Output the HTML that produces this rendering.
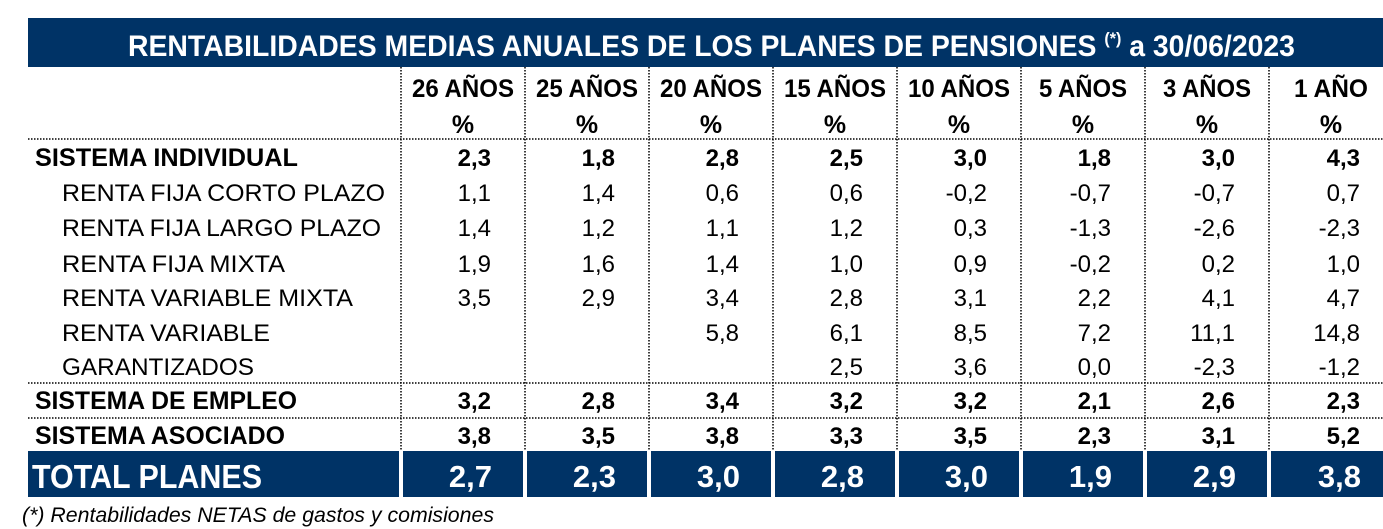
<!DOCTYPE html>
<html><head><meta charset="utf-8"><style>body{margin:0;background:#fff}svg{display:block}</style></head><body>
<svg width="1383" height="529" xmlns="http://www.w3.org/2000/svg" font-family="Liberation Sans, Arial, sans-serif">
<rect x="28" y="18" width="1360" height="49" fill="#003366"/>
<text x="128" y="56" font-size="30" font-weight="bold" fill="#fff" textLength="1167" lengthAdjust="spacingAndGlyphs">RENTABILIDADES MEDIAS ANUALES DE LOS PLANES DE PENSIONES <tspan font-size="17" dy="-12">(*)</tspan><tspan dy="12"> a 30/06/2023</tspan></text>
<g stroke="#000" stroke-width="1.5" stroke-dasharray="1.5,1.5">
<line x1="28" y1="139" x2="1383" y2="139"/>
<line x1="28" y1="383" x2="1383" y2="383"/>
<line x1="28" y1="418" x2="1383" y2="418"/>
<line x1="401" y1="67" x2="401" y2="451"/><line x1="525" y1="67" x2="525" y2="451"/>
<line x1="649" y1="67" x2="649" y2="451"/><line x1="773" y1="67" x2="773" y2="451"/>
<line x1="897" y1="67" x2="897" y2="451"/><line x1="1021" y1="67" x2="1021" y2="451"/>
<line x1="1145" y1="67" x2="1145" y2="451"/><line x1="1269" y1="67" x2="1269" y2="451"/>
</g>
<g fill="#003366">
<rect x="28" y="451" width="371" height="46"/>
<rect x="403" y="451" width="120" height="46"/><rect x="527" y="451" width="120" height="46"/>
<rect x="651" y="451" width="120" height="46"/><rect x="775" y="451" width="120" height="46"/>
<rect x="899" y="451" width="120" height="46"/><rect x="1023" y="451" width="120" height="46"/>
<rect x="1147" y="451" width="120" height="46"/><rect x="1271" y="451" width="120" height="46"/>
</g>
<g font-size="25" font-weight="bold" text-anchor="middle">
<text x="463" y="97" textLength="102" lengthAdjust="spacingAndGlyphs">26 AÑOS</text><text x="587" y="97" textLength="102" lengthAdjust="spacingAndGlyphs">25 AÑOS</text>
<text x="711" y="97" textLength="102" lengthAdjust="spacingAndGlyphs">20 AÑOS</text><text x="835" y="97" textLength="102" lengthAdjust="spacingAndGlyphs">15 AÑOS</text>
<text x="959" y="97" textLength="102" lengthAdjust="spacingAndGlyphs">10 AÑOS</text><text x="1083" y="97" textLength="88" lengthAdjust="spacingAndGlyphs">5 AÑOS</text>
<text x="1207" y="97" textLength="88" lengthAdjust="spacingAndGlyphs">3 AÑOS</text><text x="1331" y="97" textLength="74" lengthAdjust="spacingAndGlyphs">1 AÑO</text>
<text x="463" y="133">%</text><text x="587" y="133">%</text><text x="711" y="133">%</text><text x="835" y="133">%</text>
<text x="959" y="133">%</text><text x="1083" y="133">%</text><text x="1207" y="133">%</text><text x="1331" y="133">%</text>
</g>
<g font-size="25" font-weight="bold">
<text x="35" y="166" textLength="263" lengthAdjust="spacingAndGlyphs">SISTEMA INDIVIDUAL</text>
<text x="35" y="409" textLength="262" lengthAdjust="spacingAndGlyphs">SISTEMA DE EMPLEO</text>
<text x="35" y="444" textLength="250" lengthAdjust="spacingAndGlyphs">SISTEMA ASOCIADO</text>
</g>
<g font-size="24">
<text x="62" y="201" textLength="323" lengthAdjust="spacingAndGlyphs">RENTA FIJA CORTO PLAZO</text>
<text x="62" y="236" textLength="319" lengthAdjust="spacingAndGlyphs">RENTA FIJA LARGO PLAZO</text>
<text x="62" y="272" textLength="223" lengthAdjust="spacingAndGlyphs">RENTA FIJA MIXTA</text>
<text x="62" y="306" textLength="291" lengthAdjust="spacingAndGlyphs">RENTA VARIABLE MIXTA</text>
<text x="62" y="341" textLength="208" lengthAdjust="spacingAndGlyphs">RENTA VARIABLE</text>
<text x="62" y="375" textLength="192" lengthAdjust="spacingAndGlyphs">GARANTIZADOS</text>
</g>
<text x="32" y="488" font-size="33" font-weight="bold" fill="#fff" textLength="230" lengthAdjust="spacingAndGlyphs">TOTAL PLANES</text>
<g font-size="24" text-anchor="end">
<g font-weight="bold">
<text x="491" y="166">2,3</text><text x="615" y="166">1,8</text><text x="739" y="166">2,8</text><text x="863" y="166">2,5</text><text x="987" y="166">3,0</text><text x="1111" y="166">1,8</text><text x="1235" y="166">3,0</text><text x="1360" y="166">4,3</text>
<text x="491" y="409">3,2</text><text x="615" y="409">2,8</text><text x="739" y="409">3,4</text><text x="863" y="409">3,2</text><text x="987" y="409">3,2</text><text x="1111" y="409">2,1</text><text x="1235" y="409">2,6</text><text x="1360" y="409">2,3</text>
<text x="491" y="444">3,8</text><text x="615" y="444">3,5</text><text x="739" y="444">3,8</text><text x="863" y="444">3,3</text><text x="987" y="444">3,5</text><text x="1111" y="444">2,3</text><text x="1235" y="444">3,1</text><text x="1360" y="444">5,2</text>
</g>
<text x="491" y="201">1,1</text><text x="615" y="201">1,4</text><text x="739" y="201">0,6</text><text x="863" y="201">0,6</text><text x="987" y="201">-0,2</text><text x="1111" y="201">-0,7</text><text x="1235" y="201">-0,7</text><text x="1360" y="201">0,7</text>
<text x="491" y="236">1,4</text><text x="615" y="236">1,2</text><text x="739" y="236">1,1</text><text x="863" y="236">1,2</text><text x="987" y="236">0,3</text><text x="1111" y="236">-1,3</text><text x="1235" y="236">-2,6</text><text x="1360" y="236">-2,3</text>
<text x="491" y="272">1,9</text><text x="615" y="272">1,6</text><text x="739" y="272">1,4</text><text x="863" y="272">1,0</text><text x="987" y="272">0,9</text><text x="1111" y="272">-0,2</text><text x="1235" y="272">0,2</text><text x="1360" y="272">1,0</text>
<text x="491" y="306">3,5</text><text x="615" y="306">2,9</text><text x="739" y="306">3,4</text><text x="863" y="306">2,8</text><text x="987" y="306">3,1</text><text x="1111" y="306">2,2</text><text x="1235" y="306">4,1</text><text x="1360" y="306">4,7</text>
<text x="739" y="341">5,8</text><text x="863" y="341">6,1</text><text x="987" y="341">8,5</text><text x="1111" y="341">7,2</text><text x="1235" y="341">11,1</text><text x="1360" y="341">14,8</text>
<text x="863" y="375">2,5</text><text x="987" y="375">3,6</text><text x="1111" y="375">0,0</text><text x="1235" y="375">-2,3</text><text x="1360" y="375">-1,2</text>
<g font-size="31" font-weight="bold" fill="#fff">
<text x="492" y="487">2,7</text><text x="616" y="487">2,3</text><text x="740" y="487">3,0</text><text x="864" y="487">2,8</text><text x="988" y="487">3,0</text><text x="1112" y="487">1,9</text><text x="1236" y="487">2,9</text><text x="1361" y="487">3,8</text>
</g>
</g>
<text x="22" y="522" font-size="21" font-style="italic" textLength="472" lengthAdjust="spacingAndGlyphs">(*) Rentabilidades NETAS de gastos y comisiones</text>
</svg>
</body></html>
